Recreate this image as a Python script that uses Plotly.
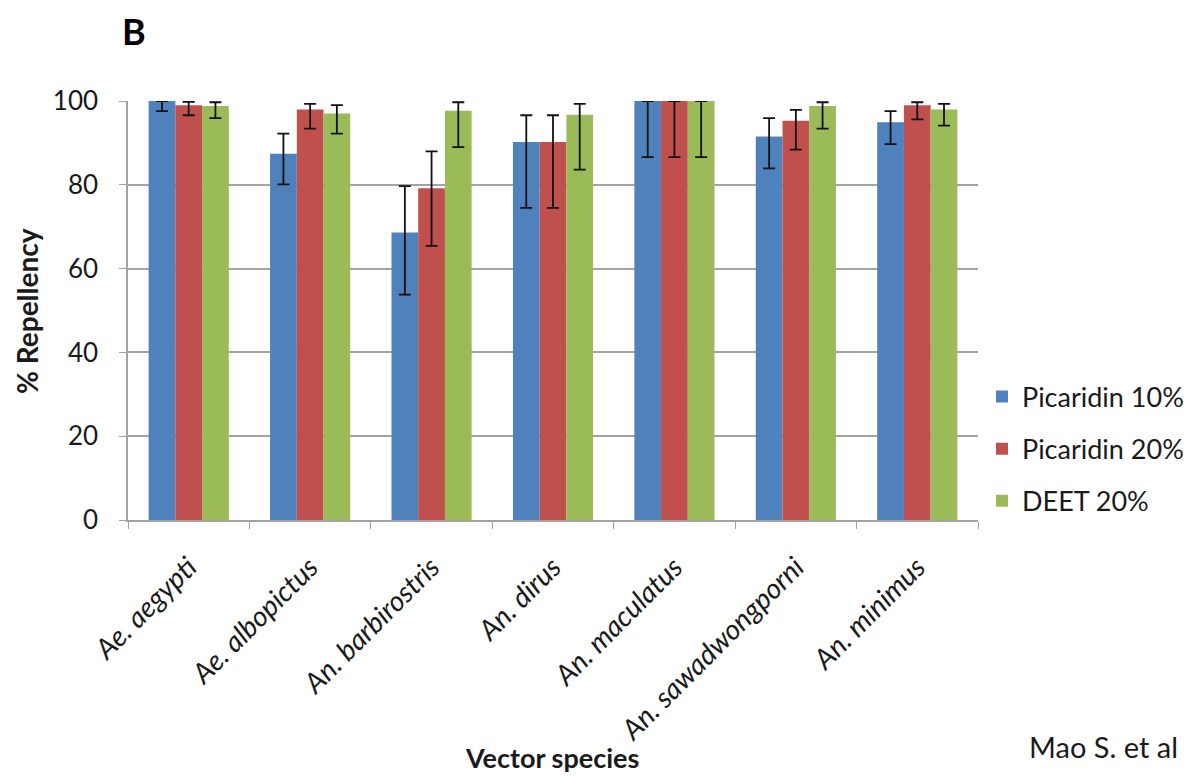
import plotly.graph_objects as go

# Mean % repellency per vector species, with upper/lower error extents
species = ["Ae. aegypti", "Ae. albopictus", "An. barbirostris", "An. dirus",
           "An. maculatus", "An. sawadwongporni", "An. minimus"]

picaridin10 = [100, 87.4, 68.6, 90.2, 100, 91.5, 94.9]
picaridin10_up = [0, 4.8, 11.1, 6.4, 0, 4.4, 2.7]
picaridin10_lo = [2.4, 7.3, 14.8, 15.7, 13.4, 7.6, 5.2]

picaridin20 = [99.0, 98.0, 79.2, 90.2, 100, 95.3, 99.0]
picaridin20_up = [0.8, 1.3, 8.8, 6.4, 0, 2.6, 0.7]
picaridin20_lo = [2.4, 4.6, 13.8, 15.7, 13.4, 6.9, 3.4]

deet20 = [98.8, 97.0, 97.7, 96.7, 100, 98.8, 98.0]
deet20_up = [0.9, 2.0, 2.0, 2.6, 0, 0.9, 1.3]
deet20_lo = [2.9, 4.8, 8.7, 13.1, 13.4, 5.4, 3.9]

series = [
    ("Picaridin 10%", picaridin10, picaridin10_up, picaridin10_lo, "#4F81BD"),
    ("Picaridin 20%", picaridin20, picaridin20_up, picaridin20_lo, "#C0504D"),
    ("DEET 20%", deet20, deet20_up, deet20_lo, "#9BBB59"),
]

FONT = "Lato"
TEXT = "#1a1a1a"
GRID = "#a3a3a3"

W, H = 1189, 776
ML, MR, MT, MB = 128, 211, 101, 256
plot_w, plot_h = W - ML - MR, H - MT - MB


def px_x(x):
    return (x - ML) / plot_w


def px_y(y):
    return (H - MB - y) / plot_h


fig = go.Figure()
for name, vals, up, lo, color in series:
    fig.add_trace(go.Bar(
        name=name, x=species, y=vals,
        marker=dict(color=color, line=dict(width=0)),
        legendgroup=name,
        error_y=dict(type="data", symmetric=False, array=up, arrayminus=lo,
                     color="#111111", thickness=1.8, width=6),
    ))

fig.update_layout(
    width=W, height=H,
    paper_bgcolor="white", plot_bgcolor="white",
    margin=dict(l=ML, r=MR, t=MT, b=MB, autoexpand=False),
    barmode="group", bargap=0.34, bargroupgap=0,
    font=dict(family=FONT, color=TEXT),
    legend=dict(xref="container", yref="container",
                x=982 / W, xanchor="left", y=1 - 449 / H, yanchor="middle",
                font=dict(size=27, family=FONT, color=TEXT),
                tracegroupgap=14, itemwidth=30,
                bgcolor="rgba(0,0,0,0)"),
    xaxis=dict(
        showgrid=False, showline=True, linecolor=GRID, linewidth=1.5,
        ticks="outside", tickson="boundaries", ticklen=7, tickcolor=GRID,
        tickangle=-45, ticklabelstandoff=18,
        tickfont=dict(size=28, family=FONT, style="italic", color=TEXT),
        automargin=False,
    ),
    yaxis=dict(
        range=[0, 100], dtick=20, showgrid=True, gridcolor=GRID, gridwidth=1.5,
        showline=True, linecolor=GRID, linewidth=1.5,
        ticks="outside", ticklen=7, tickcolor=GRID, ticklabelstandoff=16,
        tickfont=dict(size=26, family=FONT, color=TEXT),
        automargin=False, zeroline=False,
    ),
    annotations=[
        dict(text="<b>B</b>", x=px_x(134), y=px_y(31), xref="paper", yref="paper",
             xanchor="center", yanchor="middle", showarrow=False,
             font=dict(size=36, family=FONT, color="#000")),
        dict(text="<b>% Repellency</b>", x=px_x(27), y=px_y(311),
             xref="paper", yref="paper", xanchor="center", yanchor="middle",
             textangle=-90, showarrow=False,
             font=dict(size=28, family=FONT, color=TEXT)),
        dict(text="<b>Vector species</b>", x=px_x(552), y=px_y(757),
             xref="paper", yref="paper", xanchor="center", yanchor="middle",
             showarrow=False, font=dict(size=27, family=FONT, color=TEXT)),
        dict(text="Mao S. et al", x=px_x(1180), y=px_y(746),
             xref="paper", yref="paper", xanchor="right", yanchor="middle",
             showarrow=False, font=dict(size=29, family=FONT, color=TEXT)),
    ],
)

fig.write_html("out.html")
